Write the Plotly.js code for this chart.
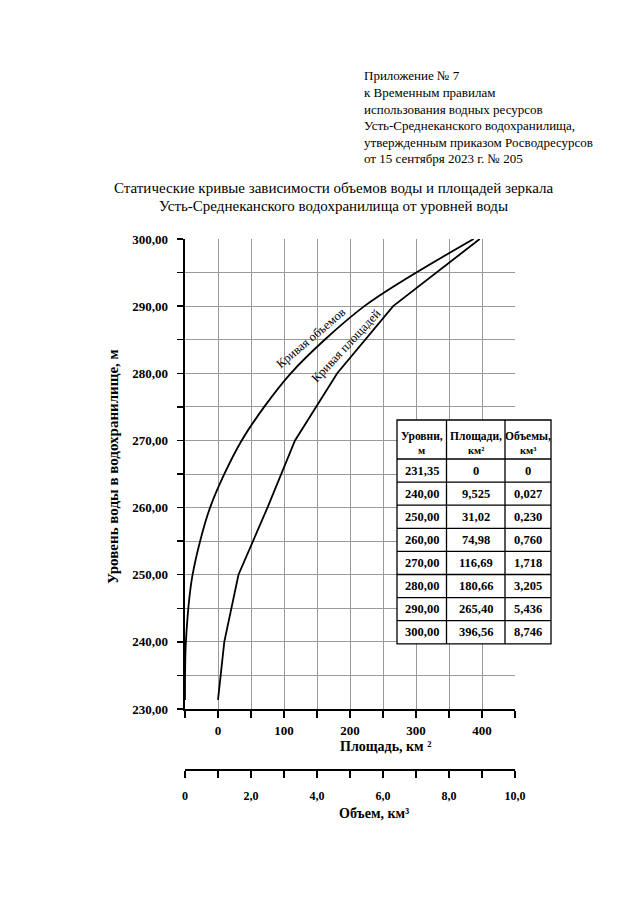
<!DOCTYPE html>
<html><head><meta charset="utf-8">
<script src="https://cdn.plot.ly/plotly-3.0.1.min.js"></script>
<style>html,body{margin:0;padding:0;background:#fff}</style>
</head><body><div id="chart" style="width:640px;height:919px"></div>
<script>
// ---- data ----
const levels = [231.35, 240, 250, 260, 270, 280, 290, 300];
const areas = [0, 9.525, 31.02, 74.98, 116.69, 180.66, 265.40, 396.56];
const volumes = [0, 0.027, 0.230, 0.760, 1.718, 3.205, 5.436, 8.746];
const levelText = ['231,35','240,00','250,00','260,00','270,00','280,00','290,00','300,00'];
const areaText = ['0','9,525','31,02','74,98','116,69','180,66','265,40','396,56'];
const volumeText = ['0','0,027','0,230','0,760','1,718','3,205','5,436','8,746'];
const tableHead1 = ['Уровни,','Площади,','Объемы,'];
const tableHead2 = ['м','км²','км³'];
const yTickVals = [230,240,250,260,270,280,290,300];
const yTickText = ['230,00','240,00','250,00','260,00','270,00','280,00','290,00','300,00'];
const yMinorVals = [235,245,255,265,275,285,295];
const areaTickVals = [0,100,200,300,400];
const areaTickText = ['0','100','200','300','400'];
const areaMinorVals = [-50,50,150,250,350,450];
const volTickVals = [0,2,4,6,8,10];
const volTickText = ['0','2,0','4,0','6,0','8,0','10,0'];
const volMinorVals = [1,3,5,7,9];
const headerLines = ['Приложение № 7','к Временным правилам','использования водных ресурсов',
  'Усть-Среднеканского водохранилища,','утвержденным приказом Росводресурсов','от 15 сентября 2023 г. № 205'];
const titleLines = ['Статические кривые зависимости объемов воды и площадей зеркала',
  'Усть-Среднеканского водохранилища от уровней воды'];
const yTitle = 'Уровень воды в водохранилище, м';
const areaTitle = 'Площадь, км ²';
const volTitle = 'Объем, км³';
const curveLabels = ['Кривая объемов','Кривая площадей'];

// ---- geometry (pixels) ----
const L = 185, R = 515, T = 239, B = 770, PB = 709;
const px = x => (x - L) / (R - L);
const py = y => (B - y) / (B - T);
const FF = 'Liberation Serif, Times New Roman, serif';
const GRID = '#9a9a9a';

const annotations = [];
headerLines.forEach((t, i) => annotations.push({
  text: t, xref:'paper', yref:'paper', x: px(362), y: py(76 + i*16.5),
  xanchor:'left', yanchor:'middle', showarrow:false, font:{family:FF, size:13, color:'#000'}
}));
titleLines.forEach((t, i) => annotations.push({
  text: t, xref:'paper', yref:'paper', x: px(333), y: py(188 + i*18.5),
  xanchor:'center', yanchor:'middle', showarrow:false, font:{family:FF, size:15, color:'#000'}
}));
annotations.push({text: yTitle, xref:'paper', yref:'paper', x: px(113), y: py(467), textangle:-90,
  xanchor:'center', yanchor:'middle', showarrow:false, font:{family:FF, size:15, color:'#000', weight:'bold'}});
annotations.push({text: areaTitle, xref:'paper', yref:'paper', x: px(385), y: py(746),
  xanchor:'center', yanchor:'middle', showarrow:false, font:{family:FF, size:14, color:'#000', weight:'bold'}});
annotations.push({text: volTitle, xref:'paper', yref:'paper', x: px(374), y: py(813),
  xanchor:'center', yanchor:'middle', showarrow:false, font:{family:FF, size:14, color:'#000', weight:'bold'}});
annotations.push({text: curveLabels[0], xref:'paper', yref:'paper', x: px(311), y: py(338), textangle:-40,
  xanchor:'center', yanchor:'middle', showarrow:false, font:{family:FF, size:12.5, color:'#000'}});
annotations.push({text: curveLabels[1], xref:'paper', yref:'paper', x: px(346), y: py(346), textangle:-47,
  xanchor:'center', yanchor:'middle', showarrow:false, font:{family:FF, size:12.5, color:'#000'}});

// ---- table ----
const colX = [397, 446.5, 505, 551];
const tTop = 420, hBot = 459, rowH = 23.1;
const tBot = hBot + rowH * levels.length;
const shapes = [];
shapes.push({type:'rect', xref:'paper', yref:'paper', x0:px(colX[0]), x1:px(colX[3]), y0:py(tTop), y1:py(tBot),
  fillcolor:'#fff', line:{color:'#000', width:1.3}, layer:'above'});
[colX[1], colX[2]].forEach(x => shapes.push({type:'line', xref:'paper', yref:'paper', x0:px(x), x1:px(x),
  y0:py(tTop), y1:py(tBot), line:{color:'#000', width:1.3}, layer:'above'}));
for (let k = 0; k < levels.length; k++) {
  const y = hBot + k*rowH;
  shapes.push({type:'line', xref:'paper', yref:'paper', x0:px(colX[0]), x1:px(colX[3]), y0:py(y), y1:py(y),
    line:{color:'#000', width:1.3}, layer:'above'});
}
const colC = [0,1,2].map(i => (colX[i] + colX[i+1]) / 2);
[tableHead1, tableHead2].forEach((arr, j) => arr.forEach((t, i) => annotations.push({
  text: t, xref:'paper', yref:'paper', x: px(colC[i]), y: py(j === 0 ? 436 : 450),
  xanchor:'center', yanchor:'middle', showarrow:false,
  font:{family:FF, size: j === 0 ? 11.5 : 10.5, color:'#000', weight:'bold'}
})));
[levelText, areaText, volumeText].forEach((arr, i) => arr.forEach((t, r) => annotations.push({
  text: t, xref:'paper', yref:'paper', x: px(colC[i]), y: py(hBot + rowH*(r + 0.5)),
  xanchor:'center', yanchor:'middle', showarrow:false,
  font:{family:FF, size:12.5, color:'#000', weight:'bold'}
})));

const traces = [
  {x: areas, y: levels, xaxis:'x', yaxis:'y', mode:'lines', line:{color:'#000', width:1.8}, hoverinfo:'skip'},
  {x: volumes, y: levels, xaxis:'x2', yaxis:'y', mode:'lines', line:{color:'#000', width:1.8, shape:'spline', smoothing:0.8}, hoverinfo:'skip'}
];

const layout = {
  width: 640, height: 919, showlegend:false,
  paper_bgcolor:'#fff', plot_bgcolor:'#fff',
  margin:{l:L, r:640-R, t:T, b:919-B, pad:0},
  font:{family:FF, color:'#000'},
  xaxis:{range:[-50,450], tickmode:'array', tickvals:areaTickVals, ticktext:areaTickText,
    ticks:'outside', ticklen:7, tickwidth:2, tickcolor:'#000',
    minor:{tickmode:'array', tickvals:areaMinorVals, ticks:'outside', ticklen:7, tickwidth:2, tickcolor:'#000',
      showgrid:true, gridcolor:GRID, gridwidth:1},
    showline:true, linewidth:2, linecolor:'#000', showgrid:true, gridcolor:GRID, gridwidth:1,
    zeroline:false, anchor:'y', ticklabelstandoff:1,
    tickfont:{family:FF, size:13, color:'#000', weight:'bold'}},
  xaxis2:{range:[0,10], overlaying:'x', anchor:'free', position:0, side:'bottom',
    tickmode:'array', tickvals:volTickVals, ticktext:volTickText,
    ticks:'outside', ticklen:7, tickwidth:2, tickcolor:'#000',
    minor:{tickmode:'array', tickvals:volMinorVals, ticks:'outside', ticklen:7, tickwidth:2, tickcolor:'#000', showgrid:false},
    showline:true, linewidth:2, linecolor:'#000', showgrid:false, zeroline:false, ticklabelstandoff:8,
    tickfont:{family:FF, size:12, color:'#000', weight:'bold'}},
  yaxis:{range:[230,300], domain:[py(PB), 1], tickmode:'array', tickvals:yTickVals, ticktext:yTickText,
    ticks:'outside', ticklen:6, tickwidth:1.5, tickcolor:'#000',
    minor:{tickmode:'array', tickvals:yMinorVals, ticks:'outside', ticklen:6, tickwidth:1.5, tickcolor:'#000',
      showgrid:true, gridcolor:GRID, gridwidth:1},
    showline:true, linewidth:2.5, linecolor:'#000', showgrid:true, gridcolor:GRID, gridwidth:1,
    zeroline:false, ticklabelstandoff:6,
    tickfont:{family:FF, size:13, color:'#000', weight:'bold'}},
  annotations: annotations,
  shapes: shapes
};

Plotly.newPlot('chart', traces, layout, {staticPlot:true, displayModeBar:false});
</script>
</body></html>
